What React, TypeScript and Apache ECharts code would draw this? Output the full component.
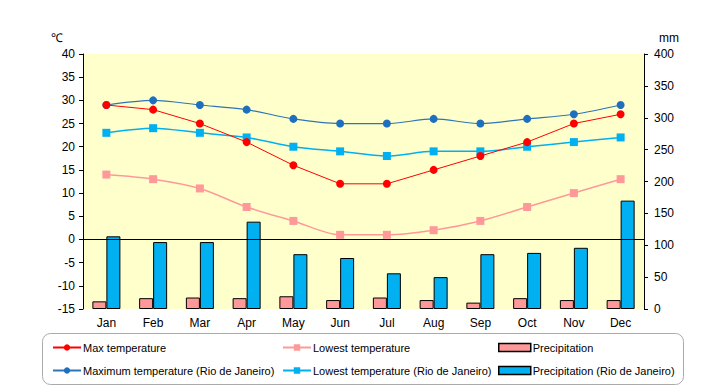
import React, { useEffect, useRef } from "react";
import * as echarts from "echarts";

const months = ["Jan", "Feb", "Mar", "Apr", "May", "Jun", "Jul", "Aug", "Sep", "Oct", "Nov", "Dec"];
const maxTemp = [29, 28, 25, 21, 16, 12, 12, 15, 18, 21, 25, 27];
const lowTemp = [14, 13, 11, 7, 4, 1, 1, 2, 4, 7, 10, 13];
const rioMax = [29, 30, 29, 28, 26, 25, 25, 26, 25, 26, 27, 29];
const rioLow = [23, 24, 23, 22, 20, 19, 18, 19, 19, 20, 21, 22];
const precip = [12, 17, 18, 17, 20, 14, 18, 14, 10, 17, 14, 14];
const rioPrecip = [114, 105, 105, 137, 86, 80, 56, 50, 86, 88, 96, 170];

const FONT = "'Liberation Sans', Arial, sans-serif";

export default function App() {
  const ref = useRef<HTMLDivElement>(null);
  useEffect(() => {
    const chart = echarts.init(ref.current!, undefined, { renderer: "svg" });
    const legendText = { fontSize: 11, color: "#000", fontFamily: FONT, padding: [0, 0, 0, -3] };
    const legendBase = { orient: "vertical", top: 342, height: 42, padding: 0, itemWidth: 28, itemHeight: 8, itemGap: 12, textStyle: legendText };
    chart.setOption({
      animation: false,
      backgroundColor: "#fff",
      textStyle: { fontFamily: FONT },
      grid: { left: 83, right: 76, top: 54, height: 255, containLabel: false, show: true, backgroundColor: "#FFFFCC", borderWidth: 0 },
      graphic: [
        { type: "rect", left: 42, top: 333, shape: { width: 641, height: 51, r: 8 }, style: { fill: "#fff", stroke: "#aaa", lineWidth: 1 }, z: -1 },
        { type: "text", left: 51, top: 32, style: { text: "℃", fontSize: 12, fill: "#000", fontFamily: FONT } },
        { type: "text", left: 659, top: 32, style: { text: "mm", fontSize: 12, fill: "#000", fontFamily: FONT } },
      ],
      legend: [
        { ...legendBase, left: 52, data: ["Max temperature", "Maximum temperature (Rio de Janeiro)"] },
        { ...legendBase, left: 282, data: ["Lowest temperature", "Lowest temperature (Rio de Janeiro)"] },
        {
          ...legendBase, left: 498, itemWidth: 32,
          data: [
            { name: "Precipitation", icon: "rect", itemStyle: { borderColor: "#000", borderWidth: 1.5 } },
            { name: "Precipitation (Rio de Janeiro)", icon: "rect", itemStyle: { borderColor: "#000", borderWidth: 1.5 } },
          ],
        },
      ],
      xAxis: {
        type: "category",
        data: months,
        axisLine: { show: false },
        axisTick: { show: false },
        axisLabel: { color: "#000", fontSize: 12, margin: 8, fontFamily: FONT },
      },
      yAxis: [
        {
          type: "value", min: -15, max: 40, interval: 5,
          axisLine: { show: true, lineStyle: { color: "#000" } },
          axisTick: { show: true, length: 4, lineStyle: { color: "#000" } },
          axisLabel: { color: "#000", fontSize: 12, margin: 8, fontFamily: FONT },
          splitLine: { show: false },
        },
        {
          type: "value", min: 0, max: 400, interval: 50,
          axisLine: { show: true, lineStyle: { color: "#000" } },
          axisTick: { show: true, length: 4, lineStyle: { color: "#000" } },
          axisLabel: { color: "#000", fontSize: 12, margin: 10, fontFamily: FONT },
          splitLine: { show: false },
        },
      ],
      series: [
        {
          name: "Precipitation", type: "bar", yAxisIndex: 1, data: precip, barWidth: 14, barGap: "0%",
          itemStyle: { color: "#FF9999", borderColor: "#000", borderWidth: 1 },
        },
        {
          name: "Precipitation (Rio de Janeiro)", type: "bar", yAxisIndex: 1, data: rioPrecip, barWidth: 14, barGap: "0%",
          itemStyle: { color: "#00B0F0", borderColor: "#000", borderWidth: 1 },
        },
        {
          name: "Max temperature", type: "line", data: maxTemp, symbol: "circle", symbolSize: 8,
          lineStyle: { color: "#FF0000", width: 1 }, itemStyle: { color: "#FF0000" }, z: 5,
          markLine: { silent: true, symbol: "none", label: { show: false }, lineStyle: { color: "#000", width: 1.2, type: "solid" }, data: [{ yAxis: 0 }] },
        },
        {
          name: "Lowest temperature", type: "line", data: lowTemp, symbol: "rect", symbolSize: 8, smooth: 0.3,
          lineStyle: { color: "#FF9999", width: 1.5 }, itemStyle: { color: "#FF9999" }, z: 4,
        },
        {
          name: "Maximum temperature (Rio de Janeiro)", type: "line", data: rioMax, symbol: "circle", symbolSize: 8, smooth: 0.3,
          lineStyle: { color: "#2E75B6", width: 1.2 }, itemStyle: { color: "#1F6FBF" }, z: 4,
        },
        {
          name: "Lowest temperature (Rio de Janeiro)", type: "line", data: rioLow, symbol: "rect", symbolSize: 8, smooth: 0.3,
          lineStyle: { color: "#00B0F0", width: 1.5 }, itemStyle: { color: "#00B0F0" }, z: 4,
        },
      ],
    });
    return () => chart.dispose();
  }, []);
  return <div ref={ref} style={{ width: 720, height: 385, position: "absolute", left: 0, top: 0 }} />;
}
